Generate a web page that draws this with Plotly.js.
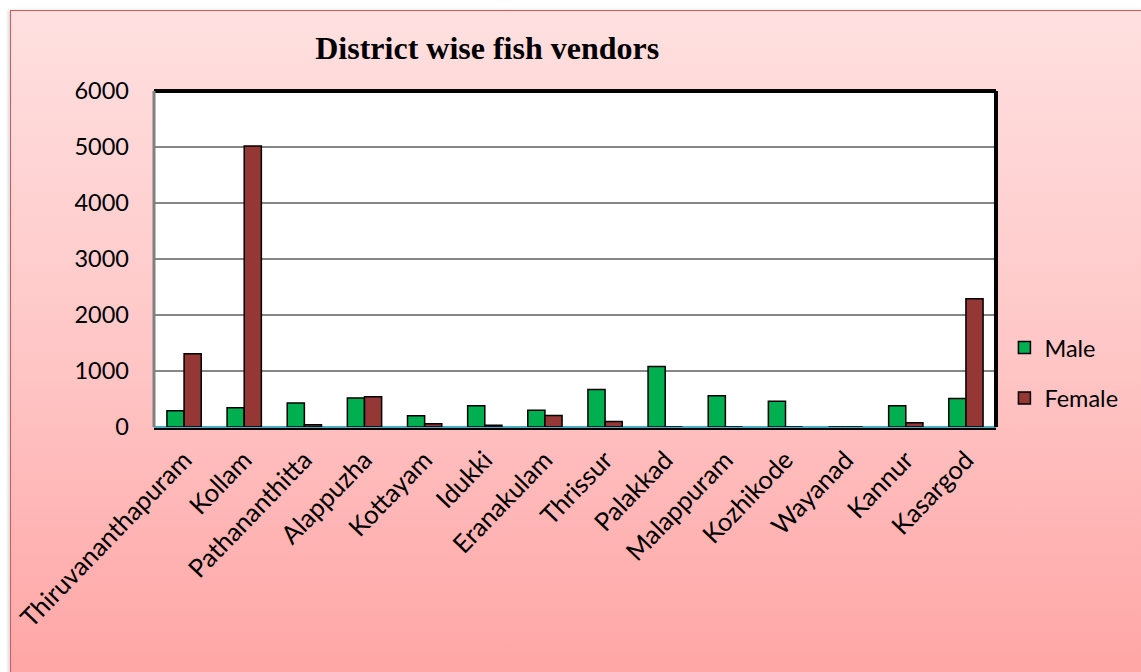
<!DOCTYPE html>
<html>
<head>
<meta charset="utf-8">
<script src="https://cdn.plot.ly/plotly-3.0.1.min.js"></script>
<style>
  html, body { margin: 0; padding: 0; background: #ffffff; width: 1141px; height: 672px; overflow: hidden; }
  #bg { position: absolute; left: 10px; top: 10px; width: 1160px; height: 690px;
        background: linear-gradient(to bottom, #ffe0e0 0%, #ffc6c6 50%, #ffa3a3 100%);
        border: 1.5px solid #d45a58; box-shadow: -2px 0 3px rgba(0,0,0,0.15); }
  #chart { position: absolute; left: 0; top: 0; width: 1141px; height: 672px; }
</style>
</head>
<body>
<div id="bg"></div>
<div id="chart"></div>
<script>
const districts = ["Thiruvananthapuram", "Kollam", "Pathananthitta", "Alappuzha", "Kottayam", "Idukki",
  "Eranakulam", "Thrissur", "Palakkad", "Malappuram", "Kozhikode", "Wayanad", "Kannur", "Kasargod"];
const maleVendors = [290, 345, 430, 520, 200, 380, 300, 670, 1080, 560, 460, 0, 380, 510];
const femaleVendors = [1310, 5020, 40, 540, 60, 30, 205, 100, 0, 0, 0, 0, 75, 2290];
const yTicks = [0, 1000, 2000, 3000, 4000, 5000, 6000];

const labelFont = { family: "Lato, 'Open Sans', sans-serif", size: 23.5, color: "#000000" };
const xLabelFont = { family: "Lato, 'Open Sans', sans-serif", size: 25.5, color: "#000000" };

const traces = [
  { type: "bar", name: "Male", x: districts, y: maleVendors, legendgroup: "m",
    marker: { color: "#00b050", line: { color: "#000000", width: 1.5 } } },
  { type: "bar", name: "Female", x: districts, y: femaleVendors, legendgroup: "f",
    marker: { color: "#953735", line: { color: "#000000", width: 1.5 } } }
];

const layout = {
  width: 1141, height: 672,
  paper_bgcolor: "rgba(0,0,0,0)",
  plot_bgcolor: "#ffffff",
  margin: { l: 154, r: 145, t: 91, b: 245 },
  barmode: "group",
  bargap: 0.43,
  bargroupgap: 0,
  title: { text: "District wise fish vendors", xref: "container", yref: "container",
    x: 0.427, xanchor: "center", y: 0.929, yanchor: "middle",
    font: { family: "'Liberation Serif', 'Times New Roman', serif", size: 32, color: "#000000", weight: "bold" } },
  xaxis: { type: "category", tickangle: -46, tickfont: xLabelFont, showgrid: false,
    showline: false, ticks: "", ticklabelstandoff: 12, automargin: false },
  yaxis: { range: [0, 6000], tickvals: yTicks, tickfont: labelFont, showgrid: true,
    gridcolor: "#868686", gridwidth: 1.5, zeroline: true, zerolinecolor: "#4bacc6", zerolinewidth: 2.5,
    showline: false, ticks: "", ticklabelstandoff: 24, automargin: false },
  legend: { x: 1.01, xanchor: "left", y: 0.16, yanchor: "middle", font: labelFont,
    bgcolor: "rgba(0,0,0,0)", traceorder: "grouped", tracegroupgap: 17 },
  shapes: [
    { type: "line", xref: "paper", yref: "paper", x0: 0, x1: 1, y0: 1, y1: 1, line: { color: "#000000", width: 4 } },
    { type: "line", xref: "paper", yref: "paper", x0: 1, x1: 1, y0: 0, y1: 1, line: { color: "#000000", width: 4 } },
    { type: "line", xref: "paper", yref: "paper", x0: 0, x1: 0, y0: 0, y1: 1, line: { color: "#808080", width: 3 } },
    { type: "line", xref: "paper", yref: "paper", x0: 0, x1: 1, y0: -0.006, y1: -0.006, line: { color: "#000000", width: 2 } }
  ],
  showlegend: true
};

Plotly.newPlot("chart", traces, layout, { displayModeBar: false, staticPlot: true });
</script>
</body>
</html>
